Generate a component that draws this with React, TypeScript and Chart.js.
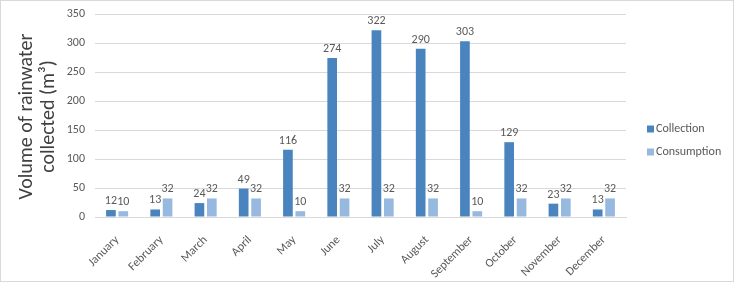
import React, { useEffect, useRef } from "react";
import { Chart, registerables } from "chart.js";

Chart.register(...registerables);

const months = ["January", "February", "March", "April", "May", "June", "July", "August", "September", "October", "November", "December"];
const collection = [12, 13, 24, 49, 116, 274, 322, 290, 303, 129, 23, 13];
const consumption = [10, 32, 32, 32, 10, 32, 32, 32, 10, 32, 32, 32];
const seriesNames = ["Collection", "Consumption"];
const seriesColors = ["#4a84bf", "#97b9e0"];
const yTitle = ["Volume of rainwater", "collected (m³)"];

const FONT = "Carlito, 'Liberation Sans', Arial, sans-serif";
const TEXT = "#595959";

const labelPlugin = {
  id: "valueLabels",
  afterDatasetsDraw(chart: any) {
    const ctx = chart.ctx;
    ctx.save();
    ctx.font = `12px ${FONT}`;
    ctx.fillStyle = TEXT;
    ctx.textAlign = "center";
    ctx.textBaseline = "bottom";
    chart.data.datasets.forEach((ds: any, i: number) => {
      const meta = chart.getDatasetMeta(i);
      meta.data.forEach((bar: any, j: number) => {
        ctx.fillText(String(ds.data[j]), bar.x, bar.y - 3);
      });
    });
    ctx.restore();
  },
};

const titlePlugin = {
  id: "yTitle",
  afterDraw(chart: any) {
    const ctx = chart.ctx;
    const area = chart.chartArea;
    const cy = (area.top + area.bottom) / 2 + 1;
    ctx.save();
    ctx.font = `20px ${FONT}`;
    ctx.fillStyle = "#404040";
    ctx.textAlign = "center";
    ctx.textBaseline = "middle";
    const xs = [26, 48];
    yTitle.forEach((line, i) => {
      ctx.save();
      ctx.translate(xs[i], cy);
      ctx.rotate(-Math.PI / 2);
      ctx.fillText(line, 0, 0);
      ctx.restore();
    });
    ctx.restore();
  },
};

const legendPlugin = {
  id: "customLegend",
  afterDraw(chart: any) {
    const ctx = chart.ctx;
    ctx.save();
    ctx.font = `12px ${FONT}`;
    ctx.textBaseline = "middle";
    ctx.textAlign = "left";
    const x0 = chart.chartArea.right + 21;
    const ys = [128, 151];
    chart.data.datasets.forEach((ds: any, i: number) => {
      const y = ys[i];
      ctx.fillStyle = ds.backgroundColor;
      ctx.fillRect(x0, y - 3.5, 7, 7);
      ctx.fillStyle = TEXT;
      ctx.fillText(ds.label, x0 + 9, y);
    });
    ctx.restore();
  },
};

export default function App() {
  const ref = useRef<HTMLCanvasElement | null>(null);
  useEffect(() => {
    if (!ref.current) return;
    const chart = new Chart(ref.current, {
      type: "bar",
      data: {
        labels: months,
        datasets: [
          { label: seriesNames[0], data: collection, backgroundColor: seriesColors[0], categoryPercentage: 0.56, barPercentage: 0.78 },
          { label: seriesNames[1], data: consumption, backgroundColor: seriesColors[1], categoryPercentage: 0.56, barPercentage: 0.78 },
        ],
      },
      options: {
        animation: false,
        responsive: false,
        maintainAspectRatio: false,
        layout: { padding: { top: 13, right: 107, bottom: 0, left: 0 } },
        plugins: { legend: { display: false }, tooltip: { enabled: false } },
        scales: {
          x: {
            grid: { display: false, drawTicks: false },
            border: { display: true, color: "#d9d9d9" },
            ticks: { color: TEXT, font: { family: FONT, size: 12 }, minRotation: 45, maxRotation: 45, padding: 16, autoSkip: false },
            afterFit(scale: any) { scale.height = 64; },
          },
          y: {
            min: 0,
            max: 350,
            ticks: { stepSize: 50, color: TEXT, font: { family: FONT, size: 12 }, padding: 0 },
            grid: { color: "#d9d9d9", drawTicks: true, tickLength: 10, tickColor: "rgba(0,0,0,0)" },
            border: { display: false },
            title: { display: false },
            afterFit(scale: any) { scale.width = 94; },
          },
        },
      },
      plugins: [labelPlugin, titlePlugin, legendPlugin],
    });
    return () => chart.destroy();
  }, []);
  return (
    <div style={{ position: "absolute", left: 0, top: 0, width: 734, height: 282, boxSizing: "border-box", border: "1px solid #d9d9d9", background: "#fff" }}>
      <canvas ref={ref} width={732} height={280} style={{ display: "block" }} />
    </div>
  );
}
